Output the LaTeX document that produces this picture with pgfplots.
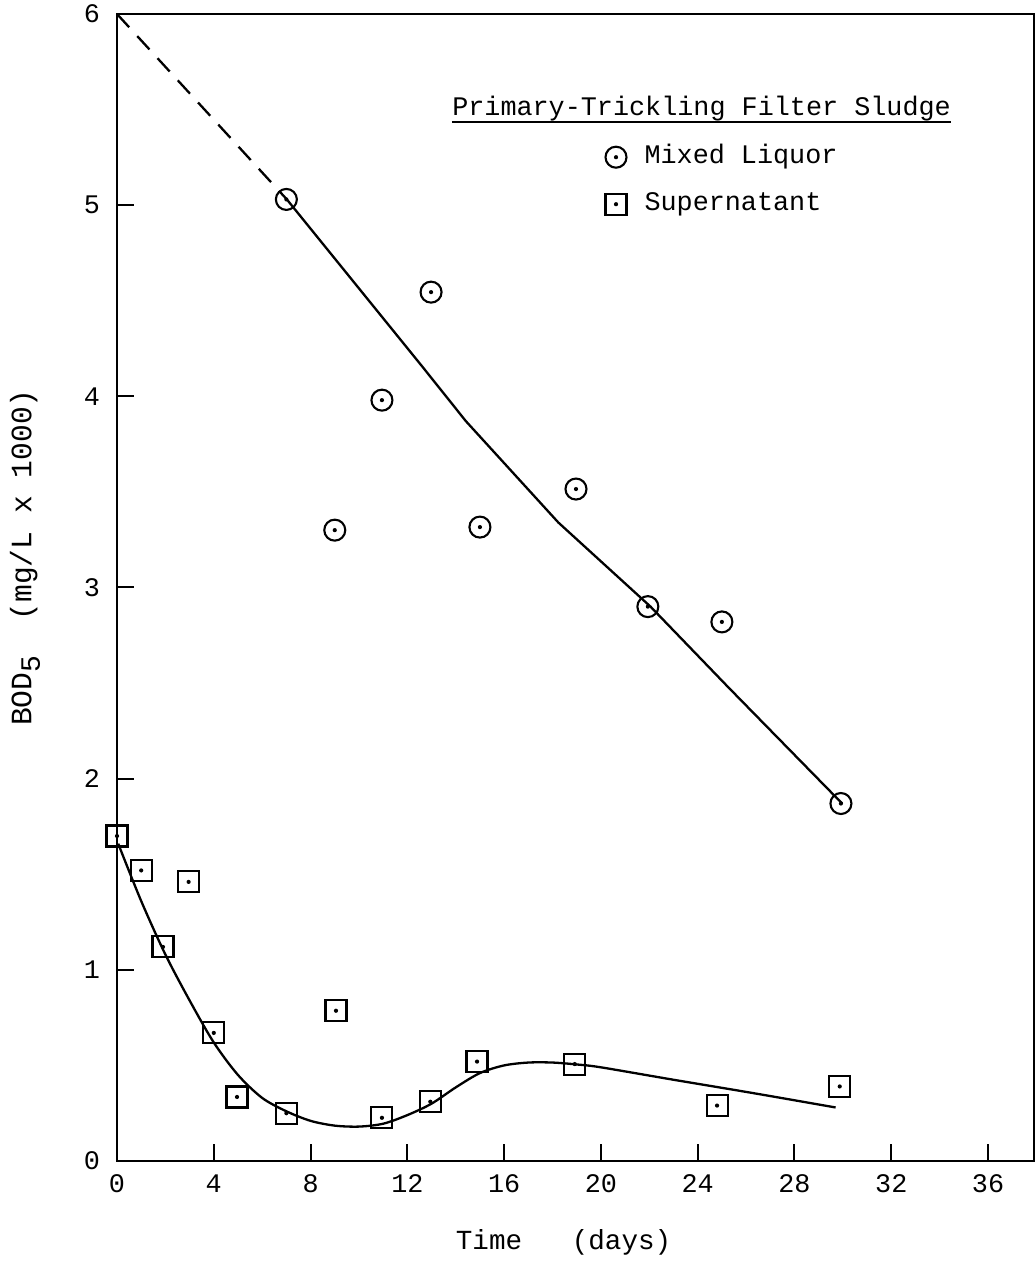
\documentclass[border=0pt]{standalone}
\usepackage{fontspec}
\setmainfont{Liberation Mono}
\usepackage{pgfplots}
\pgfplotsset{compat=1.18}
\newcommand\lfont{\fontsize{13.4}{16}\selectfont}
\pgfdeclareplotmark{odot}{%
  \pgfpathcircle{\pgfpointorigin}{\pgfplotmarksize}\pgfusepathqstroke
  \pgfpathcircle{\pgfpointorigin}{0.2\pgfplotmarksize}\pgfusepathqfill}
\pgfdeclareplotmark{sqdot}{%
  \pgfpathrectangle{\pgfpoint{-\pgfplotmarksize}{-\pgfplotmarksize}}{\pgfpoint{2\pgfplotmarksize}{2\pgfplotmarksize}}\pgfusepathqstroke
  \pgfpathcircle{\pgfpointorigin}{0.2\pgfplotmarksize}\pgfusepathqfill}
\pgfplotsset{mylegimg/.style={legend image code/.code={\path[draw=none,fill=none] (0pt,-1pt) rectangle (19.5pt,1pt); \draw[##1] plot coordinates {(5.25pt,0pt)};}}}
\begin{document}
\begin{tikzpicture}
\begin{axis}[
  scale only axis, width=458.5pt, height=573.5pt,
  xmin=0, xmax=37.9, ymin=0, ymax=6,
  xtick={0,4,...,36}, ytick={0,1,...,6},
  tick align=inside, major tick length=8.5pt,
  xtick pos=bottom, ytick pos=left,
  axis line style={line width=1pt}, every tick/.style={black, line width=1pt},
  /pgf/number format/assume math mode=true,
  every tick label/.append style={font=\lfont},
  yticklabel style={xshift=-5pt},
  xticklabel style={yshift=-3.5pt},
  xlabel={Time~~~(days)},
  xlabel style={at={(axis description cs:0.487,0)}, anchor=center, yshift=-40.5pt, font=\fontsize{13.8}{16}\selectfont},
  ylabel={BOD\raisebox{-0.55ex}{\fontsize{14}{14}\selectfont 5}~~(mg/L x 1000)},
  ylabel style={at={(axis description cs:0,0.526)}, anchor=center, yshift=46pt, font=\fontsize{14.8}{16}\selectfont},
  clip=false,
  legend cell align=left,
  legend style={at={(axis cs:20.19,5.128)}, anchor=west, draw=none, fill=none, inner sep=0pt, outer sep=0pt, row sep=11.5pt,
    nodes={inner sep=0pt, text height=9pt, text depth=3pt, font=\lfont}},
]
% fitted line, mixed liquor (dashed extrapolation)
\addplot[forget plot, black, line width=1.15pt, dash pattern=on 9pt off 6pt] coordinates {(0,6) (7.02,5.03)};
\addplot[forget plot, black, line width=1.15pt] coordinates {
 (7.02,5.03) (12.59,4.16) (14.42,3.87) (18.24,3.34) (22.05,2.90) (25.25,2.48) (29.97,1.87)};
% fitted curve, supernatant
\addplot[forget plot, black, line width=1.15pt, smooth] coordinates {
 (0.05,1.66) (1,1.36) (2,1.08) (3,0.84) (4,0.62) (5,0.45) (6,0.33) (7,0.26) (8,0.21)
 (9,0.185) (10,0.18) (11,0.195) (12,0.24) (13,0.30) (14,0.385) (15,0.46) (16,0.50)
 (17,0.515) (18,0.515) (19,0.505) (20,0.49) (23,0.425) (26.3,0.355) (29.7,0.28)};
\addplot[only marks, mark=odot, mark size=5.25pt, black, line width=1.05pt, mylegimg] coordinates {
 (7.0,5.03) (9.0,3.30) (10.95,3.98) (12.98,4.545) (15.0,3.316) (18.97,3.515) (21.94,2.90) (25.0,2.82) (29.92,1.87)};
\addlegendentry{Mixed Liquor}
\addplot[only marks, mark=sqdot, mark size=5.25pt, black, line width=1.05pt, mylegimg] coordinates {
 (0,1.70) (1.0,1.52) (1.9,1.12) (2.96,1.46) (4.0,0.67) (4.96,0.335) (7.0,0.25) (9.05,0.786)
 (10.95,0.226) (12.95,0.31) (14.88,0.52) (18.92,0.507) (24.8,0.29) (29.87,0.39)};
\addlegendentry{Supernatant}
\node[anchor=base west, inner sep=0pt, font=\lfont] (T) at (axis cs:13.84,5.471) {Primary-Trickling Filter Sludge};
\draw[line width=0.9pt] ([yshift=-3.3pt]T.base west) -- ([yshift=-3.3pt]T.base east);
\end{axis}
\pgfresetboundingbox
\path (-58.5pt,-50pt) rectangle (459.5pt,580.5pt);
\end{tikzpicture}
\end{document}
